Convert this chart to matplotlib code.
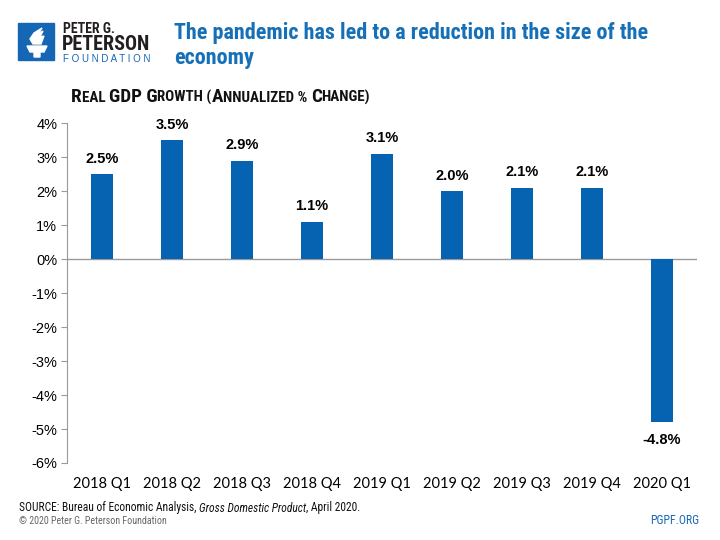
import matplotlib
matplotlib.use("Agg")
import matplotlib.pyplot as plt
from matplotlib.offsetbox import TextArea, HPacker, AnnotationBbox
from matplotlib.patches import Rectangle, Polygon

categories = ["2018 Q1", "2018 Q2", "2018 Q3", "2018 Q4", "2019 Q1",
              "2019 Q2", "2019 Q3", "2019 Q4", "2020 Q1"]
growth = [2.5, 3.5, 2.9, 1.1, 3.1, 2.0, 2.1, 2.1, -4.8]
yticks = [4, 3, 2, 1, 0, -1, -2, -3, -4, -5, -6]

BLUE = "#0563B1"
TITLE_BLUE = "#1670B8"
COND = ['Roboto Condensed', 'DejaVu Sans']
plt.rcParams['font.family'] = ['Liberation Sans', 'DejaVu Sans']

fig = plt.figure(figsize=(7.2, 5.4), dpi=100)
ax = fig.add_axes([0.093, 0.1426, 0.875, 0.6294])

x = list(range(len(categories)))
ax.bar(x, growth, width=0.32, color=BLUE, zorder=3)
ax.set_xlim(-0.5, len(categories) - 0.5)
ax.set_ylim(-6, 4)
ax.set_yticks(yticks)
ax.set_yticklabels([f"{t}%" for t in yticks], fontsize=10.5)
ax.set_xticks(x)
ax.set_xticklabels(categories, fontsize=10.5, family=['Lato', 'Liberation Sans'])
ax.tick_params(axis='x', length=0, pad=10)
ax.tick_params(axis='y', length=4, color="#999999", direction='out', pad=3)
for s in ["top", "right", "bottom"]:
    ax.spines[s].set_visible(False)
ax.spines["left"].set_color("#999999")
ax.axhline(0, color="#999999", lw=1, zorder=2)

for xi, v in zip(x, growth):
    if v >= 0:
        ax.annotate(f"{v:.1f}%", (xi, v), xytext=(0, 6), textcoords="offset points",
                    ha="center", va="bottom", fontsize=10.5, fontweight="bold")
    else:
        ax.annotate(f"{v:.1f}%", (xi, v), xytext=(0, -8), textcoords="offset points",
                    ha="center", va="top", fontsize=10.5, fontweight="bold")

# Logo
def fpts(pts):
    return [(px / 720, 1 - py / 540) for px, py in pts]

fig.patches.append(Rectangle((18/720, 1-60/540), 36/720, 37/540, transform=fig.transFigure,
                             color="#1566B5", zorder=5))
torch = [(27, 46), (47, 46), (44, 52), (40, 52), (40, 57), (34, 57), (34, 52), (30, 52)]
fig.patches.append(Polygon(fpts(torch), closed=True, transform=fig.transFigure,
                           color="white", zorder=6))
flame = [(33, 44), (30, 39), (34, 33), (42, 28), (38, 34), (43, 31), (40, 37), (44, 36), (41, 44)]
fig.patches.append(Polygon(fpts(flame), closed=True, transform=fig.transFigure,
                           color="white", zorder=6))
fig.text(63/720, 1-33/540, "PETER G.", fontsize=10, fontweight="bold",
         family=COND, fontstretch="condensed", color="#231f20", va="baseline")
fig.text(62/720, 1-50/540, "PETERSON", fontsize=14.5, fontweight="bold",
         family=COND, fontstretch="condensed", color="#231f20", va="baseline")
fig.text(63/720, 1-62.5/540, "F O U N D A T I O N", fontsize=7.0,
         color="#1566B5", va="baseline")

# Title
for yy, line in [(33, "The pandemic has led to a reduction in the size of the"),
                 (58, "economy")]:
    fig.text(174/720, 1-yy/540, line, fontsize=15.9, fontweight="bold",
             color=TITLE_BLUE, va="center", family=COND, fontstretch="condensed")

# Subtitle in small caps
parts = [("R", 13.8), ("EAL ", 10.8), ("GDP G", 13.8), ("ROWTH (", 10.8), ("A", 13.8),
         ("NNUALIZED % ", 10.8), ("C", 13.8), ("HANGE)", 10.8)]
areas = [TextArea(t, textprops=dict(fontsize=s, fontweight="bold", color="#111111",
                                    family=COND, fontstretch="condensed"))
         for t, s in parts]
box = HPacker(children=areas, align="baseline", pad=0, sep=0)
fig.add_artist(AnnotationBbox(box, (71/720, 1-97/540), xycoords="figure fraction",
                              box_alignment=(0, 0.5), frameon=False, pad=0))

# Footer
srcparts = [("SOURCE: Bureau of Economic Analysis, ", "normal"),
            ("Gross Domestic Product", "italic"), (", April 2020.", "normal")]
sareas = [TextArea(t, textprops=dict(fontsize=8.3, fontstyle=st, color="#111111",
                                     family=COND, fontstretch="condensed"))
          for t, st in srcparts]
sbox = HPacker(children=sareas, align="baseline", pad=0, sep=0)
fig.add_artist(AnnotationBbox(sbox, (19/720, 1-508/540), xycoords="figure fraction",
                              box_alignment=(0, 0.5), frameon=False, pad=0))
fig.text(19/720, 1-521/540, "© 2020 Peter G. Peterson Foundation", fontsize=7.2,
         color="#666666", va="center", family=COND, fontstretch="condensed")
fig.text(699/720, 1-521/540, "PGPF.ORG", fontsize=8.5, color="#1566B5", ha="right",
         va="center", family=COND, fontstretch="condensed")

fig.savefig("out.png", dpi=100)
